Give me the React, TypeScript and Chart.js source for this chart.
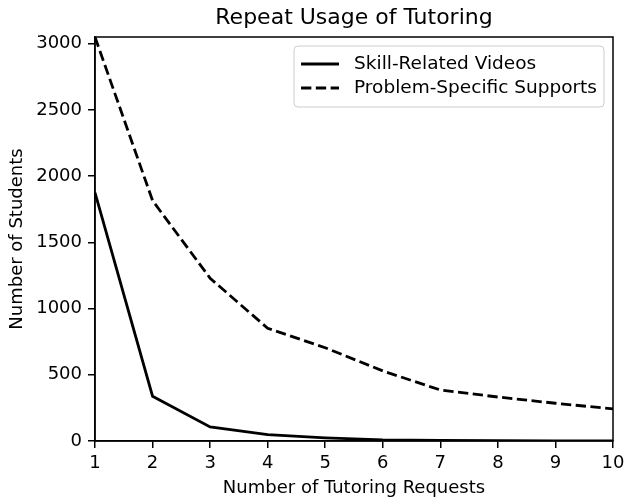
import React, { useEffect, useRef } from "react";
import { Chart, registerables } from "chart.js";

Chart.register(...registerables);

const requests = ["1", "2", "3", "4", "5", "6", "7", "8", "9", "10"];
const skillVideos = [1875, 338, 106, 48, 24, 9, 4, 2, 1, 1];
const problemSupports = [3050, 1815, 1229, 851, 704, 529, 385, 332, 285, 242];
const yMax = 3050;
const yTicks = [0, 500, 1000, 1500, 2000, 2500, 3000];
const chartTitle = "Repeat Usage of Tutoring";
const xTitle = "Number of Tutoring Requests";
const yTitle = "Number of Students";
const seriesNames = ["Skill-Related Videos", "Problem-Specific Supports"];

const FONT = "'DejaVu Sans', sans-serif";

const framePlugin = {
  id: "mplFrame",
  afterDatasetsDraw(chart: any) {
    const { ctx, chartArea } = chart;
    ctx.save();
    ctx.strokeStyle = "#000";
    ctx.lineWidth = 1.5;
    ctx.strokeRect(chartArea.left, chartArea.top, chartArea.right - chartArea.left, chartArea.bottom - chartArea.top);
    ctx.restore();
  },
};

const titlePlugin = {
  id: "mplTitle",
  afterDraw(chart: any) {
    const { ctx, chartArea } = chart;
    ctx.save();
    ctx.font = `22px ${FONT}`;
    ctx.fillStyle = "#000";
    ctx.textAlign = "center";
    ctx.textBaseline = "middle";
    ctx.fillText(chartTitle, (chartArea.left + chartArea.right) / 2, chartArea.top - 18.5);
    ctx.restore();
  },
};

const legendPlugin = {
  id: "mplLegend",
  afterDraw(chart: any) {
    const { ctx, chartArea } = chart;
    const ds = chart.data.datasets;
    ctx.save();
    ctx.font = `18.5px ${FONT}`;
    const pad = 7;
    const handle = 38;
    const gap = 15;
    const textW = Math.max(...ds.map((d: any) => ctx.measureText(d.label).width));
    const w = pad * 2 + handle + gap + textW;
    const h = 61;
    const right = chartArea.right - 9;
    const top = chartArea.top + 9;
    const left = right - w;
    const r = 4;
    ctx.beginPath();
    ctx.moveTo(left + r, top);
    ctx.lineTo(right - r, top);
    ctx.quadraticCurveTo(right, top, right, top + r);
    ctx.lineTo(right, top + h - r);
    ctx.quadraticCurveTo(right, top + h, right - r, top + h);
    ctx.lineTo(left + r, top + h);
    ctx.quadraticCurveTo(left, top + h, left, top + h - r);
    ctx.lineTo(left, top + r);
    ctx.quadraticCurveTo(left, top, left + r, top);
    ctx.closePath();
    ctx.fillStyle = "rgba(255,255,255,0.8)";
    ctx.fill();
    ctx.strokeStyle = "#cccccc";
    ctx.lineWidth = 1;
    ctx.stroke();
    ds.forEach((d: any, i: number) => {
      const cy = top + 18 + i * 24;
      ctx.beginPath();
      ctx.setLineDash(d.borderDash || []);
      ctx.strokeStyle = d.borderColor;
      ctx.lineWidth = d.borderWidth;
      ctx.moveTo(left + pad, cy);
      ctx.lineTo(left + pad + handle, cy);
      ctx.stroke();
      ctx.setLineDash([]);
      ctx.fillStyle = "#000";
      ctx.textBaseline = "middle";
      ctx.textAlign = "left";
      ctx.fillText(d.label, left + pad + handle + gap, cy);
    });
    ctx.restore();
  },
};

export default function App() {
  const ref = useRef<HTMLCanvasElement | null>(null);
  useEffect(() => {
    document.body.style.margin = "0";
    if (!ref.current) return;
    Chart.defaults.font.family = FONT;
    Chart.defaults.color = "#000";
    const chart = new Chart(ref.current, {
      type: "line",
      data: {
        labels: requests,
        datasets: [
          {
            label: seriesNames[0],
            data: skillVideos,
            borderColor: "#000",
            borderWidth: 2.8,
            pointRadius: 0,
            tension: 0,
            fill: false,
          },
          {
            label: seriesNames[1],
            data: problemSupports,
            borderColor: "#000",
            borderWidth: 2.8,
            borderDash: [10.3, 4.5],
            pointRadius: 0,
            tension: 0,
            fill: false,
          },
        ],
      },
      options: {
        responsive: false,
        animation: false,
        devicePixelRatio: 1,
        layout: { padding: { left: 0, right: 12, top: 37, bottom: 0 } },
        plugins: {
          legend: { display: false },
          tooltip: { enabled: false },
          title: { display: false },
        },
        scales: {
          x: {
            type: "category",
            offset: false,
            grid: { display: true, drawOnChartArea: false, drawTicks: true, tickLength: 7, color: "#000", lineWidth: 1.5 },
            border: { display: true, color: "#000", width: 1.5 },
            ticks: { color: "#000", font: { size: 18, family: FONT }, padding: 5, maxRotation: 0, autoSkip: false },
            title: { display: true, text: xTitle, color: "#000", font: { size: 18, family: FONT }, padding: { top: 0, bottom: 1 } },
            afterFit: (s: any) => {
              s.height = 59;
              s.paddingLeft = 0;
              s.paddingRight = 0;
            },
          },
          y: {
            type: "linear",
            min: 0,
            max: yMax,
            afterBuildTicks: (s: any) => {
              s.ticks = yTicks.map((v) => ({ value: v }));
            },
            grid: { display: true, drawOnChartArea: false, drawTicks: true, tickLength: 7, color: "#000", lineWidth: 1.5 },
            border: { display: true, color: "#000", width: 1.5 },
            ticks: {
              color: "#000",
              font: { size: 18, family: FONT },
              padding: 6,
              callback: (v: any) => String(v),
            },
            title: { display: true, text: yTitle, color: "#000", font: { size: 18, family: FONT }, padding: { top: 7, bottom: 0 } },
            afterFit: (s: any) => {
              s.width = 95;
              s.paddingTop = 0;
              s.paddingBottom = 0;
            },
          },
        },
      },
      plugins: [framePlugin, titlePlugin, legendPlugin],
    });
    return () => chart.destroy();
  }, []);
  return (
    <div style={{ width: 625, height: 500 }}>
      <canvas ref={ref} width={625} height={500} style={{ display: "block" }} />
    </div>
  );
}
